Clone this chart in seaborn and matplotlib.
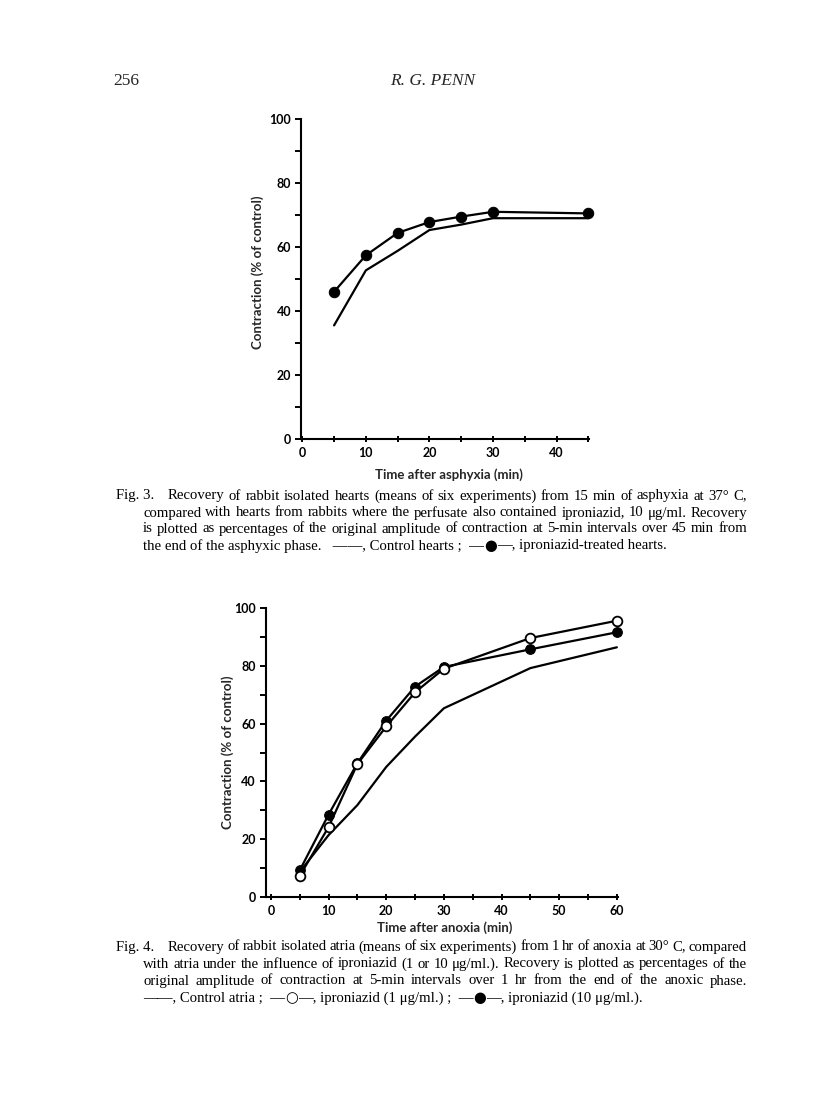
import matplotlib
matplotlib.use("Agg")
import matplotlib.pyplot as plt
import seaborn as sns
import pandas as pd
from matplotlib.ticker import MultipleLocator

# ---- data ----
fig3_time = [5, 10, 15, 20, 25, 30, 45]
fig3_control = [35.5, 52.7, 58.8, 65.3, 67.0, 69.0, 69.0]
fig3_iproniazid = [46.0, 57.4, 64.4, 67.8, 69.5, 71.0, 70.5]

fig4_time = [5, 10, 15, 20, 25, 30, 45, 60]
fig4_control = [8.7, 21.4, 31.8, 45.0, 55.5, 65.3, 79.2, 86.4]
fig4_ipro_1 = [7.3, 24.2, 46.0, 59.0, 70.8, 79.0, 89.6, 95.6]
fig4_ipro_10 = [9.2, 28.5, 46.3, 61.0, 72.8, 79.6, 85.7, 91.6]

fig3_xticks = [0, 10, 20, 30, 40]
fig4_xticks = [0, 10, 20, 30, 40, 50, 60]
yticks = [0, 20, 40, 60, 80, 100]

header_page = "256"
header_author = "R. G. PENN"
caption3 = [
    "Fig. 3.",
    "Recovery of rabbit isolated hearts (means of six experiments) from 15 min of asphyxia at 37\u00b0 C,",
    "compared with hearts from rabbits where the perfusate also contained iproniazid, 10 \u03bcg/ml.   Recovery",
    "is plotted as percentages of the original amplitude of contraction at 5-min intervals over 45 min from",
    ["the end of the asphyxic phase.   \u2014\u2014, Control hearts ;  \u2014", "\u25cf",
     "\u2014, iproniazid-treated hearts."],
]
caption4 = [
    "Fig. 4.",
    "Recovery of rabbit isolated atria (means of six experiments) from 1 hr of anoxia at 30\u00b0 C, compared",
    "with atria under the influence of iproniazid (1 or 10 \u03bcg/ml.).   Recovery is plotted as percentages of the",
    "original amplitude of contraction at 5-min intervals over 1 hr from the end of the anoxic phase.",
    ["\u2014\u2014, Control atria ;  \u2014", "\u25cb", "\u2014, iproniazid (1 \u03bcg/ml.) ;  \u2014", "\u25cf",
     "\u2014, iproniazid (10 \u03bcg/ml.)."],
]

W, H = 816, 1116

sns.set_style("ticks")
plt.rcParams['font.family'] = ['Lato', 'DejaVu Sans']
plt.rcParams['axes.linewidth'] = 1.5

serif = ['Liberation Serif', 'DejaVu Serif', 'DejaVu Sans']
axis_font = dict(family=['Lato', 'DejaVu Sans'], weight='bold')

fig = plt.figure(figsize=(W / 100, H / 100), dpi=100)
fig.patch.set_facecolor('white')


def px_axes(left, top, right, bottom):
    return fig.add_axes([left / W, 1 - bottom / H, (right - left) / W, (bottom - top) / H])


def style_axes(ax):
    sns.despine(ax=ax)
    ax.set_yticks(yticks)
    ax.yaxis.set_minor_locator(MultipleLocator(10))
    ax.xaxis.set_minor_locator(MultipleLocator(5))
    ax.tick_params(axis='both', which='major', length=4, width=1.4, color='black',
                   labelsize=9, labelcolor='black')
    ax.tick_params(axis='both', which='minor', length=4, width=1.4, color='black')
    ax.tick_params(axis='y', which='both', direction='out', pad=3)
    ax.tick_params(axis='x', which='both', direction='inout', pad=4)
    for lab in ax.get_xticklabels() + ax.get_yticklabels():
        lab.set_fontweight('bold')
    for s in ax.spines.values():
        s.set_color('black')
    ax.set_xlabel('')
    ax.set_ylabel('')
    ax.set_facecolor('white')


line_kw = dict(color='black', linewidth=1.6, clip_on=False)

# ---- Fig. 3 ----
ax3 = px_axes(301, 119, 589, 439)
df3 = pd.DataFrame({'t': fig3_time, 'control': fig3_control, 'ipro': fig3_iproniazid})
sns.lineplot(data=df3, x='t', y='control', ax=ax3, **line_kw)
sns.lineplot(data=df3, x='t', y='ipro', ax=ax3, marker='o', markersize=7.5,
             markerfacecolor='black', markeredgecolor='black', **line_kw)
ax3.set_xlim(-0.2, 45.1)
ax3.set_ylim(0, 100)
ax3.set_xticks(fig3_xticks)
style_axes(ax3)
ax3.text(-0.152, 0.52, 'Contraction (% of control)', transform=ax3.transAxes,
         rotation=90, ha='center', va='center', fontsize=9.5, **axis_font)
ax3.text(0.512, -0.11, 'Time after asphyxia (min)', transform=ax3.transAxes,
         ha='center', va='center', fontsize=9.5, **axis_font)

# ---- Fig. 4 ----
ax4 = px_axes(265.7, 608, 618, 897)
df4 = pd.DataFrame({'t': fig4_time, 'control': fig4_control,
                    'ipro1': fig4_ipro_1, 'ipro10': fig4_ipro_10})
sns.lineplot(data=df4, x='t', y='control', ax=ax4, **line_kw)
sns.lineplot(data=df4, x='t', y='ipro10', ax=ax4, marker='o', markersize=7,
             markerfacecolor='black', markeredgecolor='black', **line_kw)
sns.lineplot(data=df4, x='t', y='ipro1', ax=ax4, marker='o', markersize=7,
             markerfacecolor='white', markeredgecolor='black', markeredgewidth=1.3, **line_kw)
ax4.set_xlim(-0.9, 60.2)
ax4.set_ylim(0, 100)
ax4.set_xticks(fig4_xticks)
style_axes(ax4)
ax4.text(-0.107, 0.50, 'Contraction (% of control)', transform=ax4.transAxes,
         rotation=90, ha='center', va='center', fontsize=9.5, **axis_font)
ax4.text(0.509, -0.107, 'Time after anoxia (min)', transform=ax4.transAxes,
         ha='center', va='center', fontsize=9.5, **axis_font)

# ---- page text ----
renderer = fig.canvas.get_renderer()
cap_kw = dict(family=serif, fontsize=10.6, color='black')
sym_kw = dict(family=['DejaVu Sans'], fontsize=10.6, color='black')


def put_line(text, x0, x1, y):
    # justified line: spread the words between x0 and x1
    words = text.split()
    objs = [fig.text(0, 1 - y / H, w, ha='left', va='center', **cap_kw) for w in words]
    widths = [o.get_window_extent(renderer).width for o in objs]
    gap = (x1 - x0 - sum(widths)) / max(len(words) - 1, 1)
    x = x0
    for o, w in zip(objs, widths):
        o.set_x(x / W)
        x += w + gap


def put_last(parts, x0, y):
    # last line, left aligned; circle symbols drawn in DejaVu Sans
    x = x0
    for p in parts:
        kw = sym_kw if p in ('\u25cf', '\u25cb') else cap_kw
        t = fig.text(x / W, 1 - y / H, p, ha='left', va='center', **kw)
        x += t.get_window_extent(renderer).width


def put_caption(lines, ys):
    fig.text(116 / W, 1 - ys[0] / H, lines[0], ha='left', va='center', **cap_kw)
    put_line(lines[1], 168, 747, ys[0])
    put_line(lines[2], 143, 747, ys[1])
    put_line(lines[3], 143, 747, ys[2])
    put_last(lines[4], 143, ys[3])


put_caption(caption3, [496, 513, 529, 546])
put_caption(caption4, [947, 964, 981, 998])

fig.text(113 / W, 1 - 81 / H, header_page, ha='left', va='center',
         family=serif, fontsize=12.5)
fig.text(433 / W, 1 - 81 / H, header_author, ha='center', va='center',
         family=serif, fontsize=12.5, style='italic')

fig.savefig('out.png', dpi=100, facecolor='white')
